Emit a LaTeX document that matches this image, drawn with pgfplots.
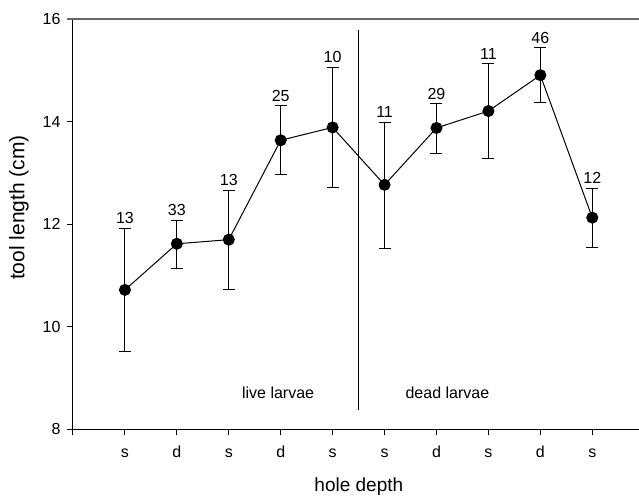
\documentclass[border=0pt]{standalone}
\usepackage{pgfplots}
\pgfplotsset{compat=1.18}
\usepackage{pgfplotstable}
\usepackage{fontspec}
\setmainfont{Liberation Sans}

\pgfplotstableread{
x  y      ep    em    n
1  10.72  1.20  1.21  13
2  11.62  0.46  0.49  33
3  11.70  0.96  0.97  13
4  13.64  0.67  0.66  25
5  13.89  1.17  1.18  10
6  12.77  1.22  1.24  11
7  13.88  0.47  0.49  29
8  14.21  0.92  0.92  11
9  14.91  0.53  0.54  46
10 12.13  0.57  0.59  12
}\data

\pgfplotstableread{
x   ytop   n
1   11.92  13
2   12.08  33
3   12.66  13
4   14.31  25
5   15.06  10
6   13.99  11
7   14.35  29
8   15.13  11
9   15.44  46
10  12.70  12
}\labels

\begin{document}
\begin{tikzpicture}
\begin{axis}[
  scale only axis,
  width=566pt, height=410pt,
  xmin=0, xmax=10.9,
  ymin=8, ymax=16,
  axis x line*=bottom,
  axis y line*=left,
  axis line style={line width=1pt, black},
  tick align=outside,
  major tick length=6pt,
  every tick/.style={line width=1pt, black},
  xtick={0,1,2,3,4,5,6,7,8,9,10},
  xticklabels={,s,d,s,d,s,s,d,s,d,s},
  ytick={8,10,12,14,16},
  /pgf/number format/assume math mode=true,
  tick label style={font=\fontsize{16}{19}\selectfont},
  xticklabel style={anchor=base, yshift=-22pt},
  yticklabel style={anchor=east, xshift=-3pt},
  xlabel={hole depth},
  ylabel={tool length (cm)},
  xlabel style={font=\fontsize{19}{22}\selectfont, at={(axis description cs:0.505,-0.152)}, anchor=base},
  ylabel style={font=\fontsize{21}{25}\selectfont, at={(axis description cs:-0.0954,0.541)}, anchor=center},
  clip=false,
]
\addplot[black, line width=1pt, mark=*, mark size=5.5pt,
  error bars/.cd, y dir=both, y explicit,
  error bar style={line width=1pt, black},
  error mark options={rotate=90, mark size=6pt, line width=1pt, black}]
  table[x=x, y=y, y error plus=ep, y error minus=em]{\data};
\addplot[draw=none, mark=none,
  nodes near coords, point meta=explicit symbolic,
  every node near coord/.append style={anchor=base, yshift=4.5pt, font=\fontsize{16}{19}\selectfont, black}]
  table[x=x, y=ytop, meta=n]{\labels};
\draw[line width=2pt, black!60] (rel axis cs:-0.011,1) -- (rel axis cs:1,1);
\draw[line width=1pt, black] (axis cs:5.5,8.38) -- (axis cs:5.5,15.79);
\node[anchor=base, font=\fontsize{16}{19}\selectfont] at (axis cs:3.95,8.61) {live larvae};
\node[anchor=base, font=\fontsize{16}{19}\selectfont] at (axis cs:7.21,8.61) {dead larvae};
\end{axis}
\pgfresetboundingbox
\useasboundingbox (-73pt,-65.7pt) rectangle (566pt,429.3pt);
\end{tikzpicture}
\end{document}
